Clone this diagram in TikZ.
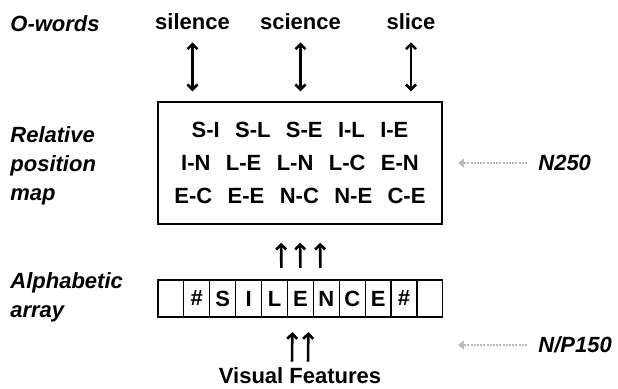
\documentclass[tikz,border=0pt]{standalone}
\usepackage{fontspec}
\setmainfont{Liberation Sans}
\usetikzlibrary{arrows.meta}
\tikzset{
	lbl/.style={
		font=\fontsize{11pt}{14.5pt}\selectfont\bfseries\itshape,
		align=left,
		anchor=west,
		inner sep=0pt,
	},
	word/.style={
		font=\fontsize{11pt}{13pt}\selectfont\bfseries,
		anchor=base,
	},
	posmap/.style={
		draw,
		line width=0.7pt,
		minimum width=142pt,
		minimum height=61pt,
		align=center,
		font=\fontsize{11pt}{16.5pt}\selectfont\bfseries,
	},
	cell/.style={
		draw,
		line width=0.6pt,
		minimum width=12.95pt,
		minimum height=18.5pt,
		inner sep=0pt,
		outer sep=0pt,
		font=\fontsize{11pt}{13pt}\selectfont\bfseries,
	},
	both/.style={
		line width=1.3pt,
		{Straight Barb[length=2.5pt,width=5pt]}-{Straight Barb[length=2.5pt,width=5pt]}
	},
	up/.style={
		line width=1.3pt,
		-{Straight Barb[length=2.5pt,width=5pt]}
	},
	erp/.style={
		gray!55,
		line width=1pt,
		dash pattern=on 1pt off 0.6pt,
		-{Triangle[length=3pt,width=4.5pt]}
	},
}

\begin{document}
\begin{tikzpicture}[x=0.5pt,y=-0.5pt]
	\useasboundingbox (0,0) rectangle (618,389);

	% level labels
	\node[lbl] (owords) at (10,24) {O-words};
	\node[lbl] (rpmlbl) at (10,166) {Relative\\position\\map};
	\node[lbl] (arrlbl) at (10,297) {Alphabetic\\array};

	% o-words
	\node[word] (silence) at (192.5,30) {silence};
	\node[word] (science) at (300.5,30) {science};
	\node[word] (slice)   at (411,30)   {slice};

	% relative position map
	\node[posmap] (map) at (300,163) {%
		S-I\hspace{0.7em}S-L\hspace{0.7em}S-E\hspace{0.7em}I-L\hspace{0.7em}I-E\\
		I-N\hspace{0.7em}L-E\hspace{0.7em}L-N\hspace{0.7em}L-C\hspace{0.7em}E-N\\
		E-C\hspace{0.7em}E-E\hspace{0.7em}N-C\hspace{0.7em}N-E\hspace{0.7em}C-E};

	\foreach \w in {silence,science,slice}
		\draw[both, shorten <=2.5pt, shorten >=5pt] (\w.south) -- (\w.south |- map.north);

	% alphabetic array
	\foreach \ch [count=\i from 0] in {{},\#,S,I,L,E,N,C,E,\#,{}}
		\node[cell] (c\i) at (170.95+25.9*\i,298.5) {\ch};

	\foreach \dx in {-9.5pt,0pt,10pt}
		\draw[up, shorten <=6pt, shorten >=9pt] ([xshift=\dx]c5.north) -- ([xshift=\dx]map.south);

	% visual features
	\node[word, anchor=center, inner sep=1pt] (vf) at (300,376) {Visual Features};

	\foreach \dx in {-4pt,4pt}
		\draw[up, shorten <=2pt, shorten >=7.5pt] ([xshift=\dx]vf.north) -- ([xshift=\dx]c5.south);

	% components
	\node[lbl] (n250) at (538,163) {N250};
	\node[lbl] (np150) at (538,345) {N/P150};
	\coordinate (n250tip) at (458,163);
	\coordinate (np150tip) at (458,345);

	\draw[erp] ([xshift=-5.5pt]n250.west) -- (n250tip);
	\draw[erp] ([xshift=-5.5pt]np150.west) -- (np150tip);

\end{tikzpicture}
\end{document}
